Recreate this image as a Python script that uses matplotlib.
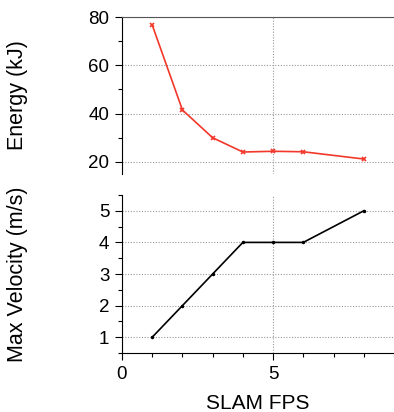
import numpy as np
import matplotlib
matplotlib.use("Agg")
import matplotlib.pyplot as plt
from matplotlib.ticker import MultipleLocator

plt.rcParams["font.family"] = ["Liberation Sans", "DejaVu Sans"]

# data
fps = [1, 2, 3, 4, 5, 6, 8]
energy = [76.7, 41.5, 30.0, 24.1, 24.4, 24.2, 21.2]
max_vel = [1, 2, 3, 4, 4, 4, 5]

fig = plt.figure(figsize=(3.94, 4.12), dpi=100)
ax1 = fig.add_axes([0.3096, 0.5777, 0.6904, 0.381])
ax2 = fig.add_axes([0.3096, 0.1432, 0.6904, 0.3835])

ax1.plot(fps, energy, color="#f2382b", lw=1.2, marker="x", ms=3, mew=1.2)
ax2.plot(fps, max_vel, color="black", lw=1.2, marker="o", ms=1.5)

for ax in (ax1, ax2):
    ax.set_xlim(0, 9)
    ax.spines["right"].set_visible(False)
    ax.xaxis.set_major_locator(MultipleLocator(5))
    ax.xaxis.set_minor_locator(MultipleLocator(1))
    ax.grid(True, which="major", ls=(0, (1, 1.5)), color="#999999", lw=0.8)
    ax.tick_params(which="major", length=5, width=0.8, labelsize=13.5, direction="out", pad=4)
    ax.tick_params(which="minor", length=3, width=0.8, direction="out")
    ax.set_axisbelow(True)

ax1.set_ylim(15, 80)
ax1.yaxis.set_major_locator(MultipleLocator(20))
ax1.yaxis.set_minor_locator(MultipleLocator(10))
ax1.spines["bottom"].set_visible(False)
ax1.spines["top"].set_color("#555555")
ax1.tick_params(axis="x", which="both", bottom=False, labelbottom=False)
ax1.set_ylabel("Energy (kJ)", fontsize=15.5)
ax1.yaxis.set_label_coords(-0.345, 0.5)

ax2.set_ylim(0.5, 5.5)
ax2.yaxis.set_major_locator(MultipleLocator(1))
ax2.yaxis.set_minor_locator(MultipleLocator(0.5))
ax2.spines["top"].set_visible(False)
ax2.set_ylabel("Max Velocity (m/s)", fontsize=15.5)
ax2.yaxis.set_label_coords(-0.345, 0.5)
ax2.set_xlabel("SLAM FPS", fontsize=15, labelpad=8)

fig.savefig("out.png", dpi=100)
